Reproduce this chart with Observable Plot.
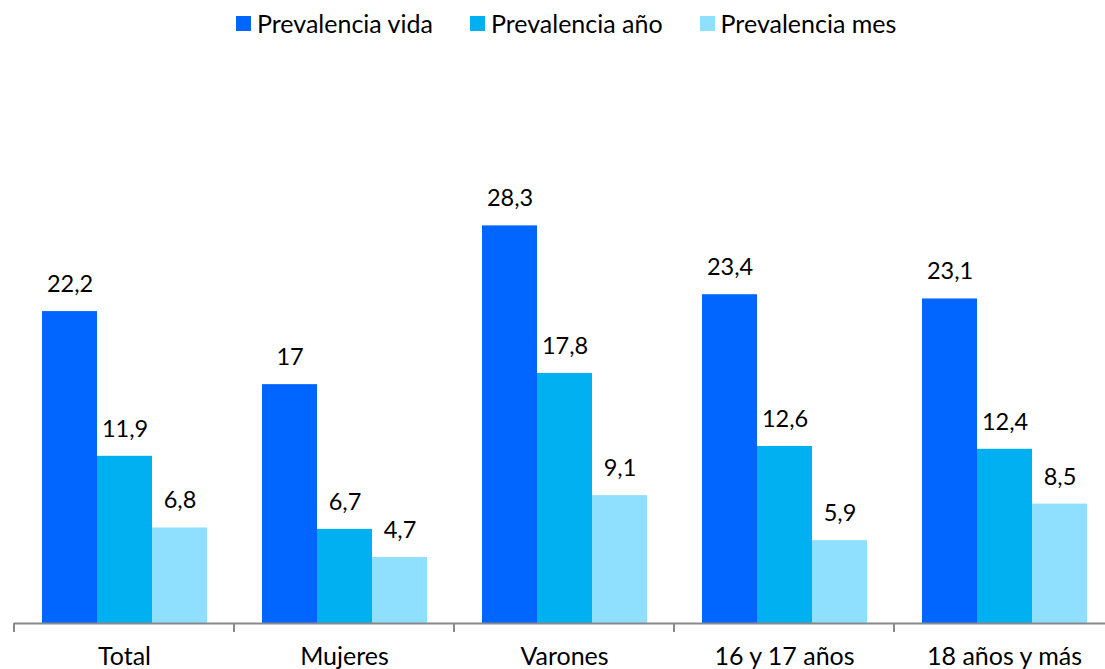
<!DOCTYPE html>
<html>
<head>
<meta charset="utf-8">
<script src="https://cdn.jsdelivr.net/npm/d3@7"></script>
<script src="https://cdn.jsdelivr.net/npm/@observablehq/plot@0.6"></script>
<style>
  html, body { margin: 0; padding: 0; background: #fff; overflow: hidden; width: 1105px; height: 669px; }
  #legend { position: relative; height: 50px; font-family: Lato, sans-serif; font-size: 25px; line-height: 25px; color: #000; }
  #legend .items { position: absolute; left: 236px; top: 11px; display: flex; align-items: center; }
  #legend .item { display: flex; align-items: center; margin-right: 37px; }
  #legend .sw { width: 15px; height: 15px; margin-right: 6px; }
  #chart svg { display: block; max-width: none !important; }
</style>
</head>
<body>
<div id="legend"><div class="items"></div></div>
<div id="chart"></div>
<script>
const categories = ["Total", "Mujeres", "Varones", "16 y 17 años", "18 años y más"];
const series = ["Prevalencia vida", "Prevalencia año", "Prevalencia mes"];
const vida = [22.2, 17, 28.3, 23.4, 23.1];
const anio = [11.9, 6.7, 17.8, 12.6, 12.4];
const mes = [6.8, 4.7, 9.1, 5.9, 8.5];
const colors = ["#0066FF", "#00B0F0", "#8FE0FF"];

const seriesValues = [vida, anio, mes];
const data = categories.flatMap((c, i) =>
  series.map((s, j) => ({ category: c, series: s, value: seriesValues[j][i] }))
);
const fmt = v => String(v).replace(".", ",");

// legend
const items = d3.select("#legend .items");
series.forEach((s, j) => {
  const it = items.append("div").attr("class", "item");
  it.append("div").attr("class", "sw").style("background", colors[j]);
  it.append("span").text(s);
});

const plot = Plot.plot({
  width: 1116,
  height: 619,
  marginLeft: 12,
  marginRight: 0,
  marginTop: 11,
  marginBottom: 46,
  style: { fontFamily: "Lato, sans-serif", fontSize: "24px", color: "#000", background: "transparent", overflow: "visible", maxWidth: "none" },
  fx: { domain: categories, padding: 0, label: null },
  x: { domain: series, paddingInner: 0, paddingOuter: 0.5, axis: null },
  y: { domain: [0, 40], axis: null },
  color: { domain: series, range: colors },
  marks: [
    Plot.barY(data, { fx: "category", x: "series", y: "value", fill: "series" }),
    Plot.text(data, { fx: "category", x: "series", y: "value", text: d => fmt(d.value), dy: -27, fontSize: 23.5, fill: "#000" }),
    Plot.ruleY([0], { stroke: "#898989", strokeWidth: 2 }),
    Plot.axisFx({ anchor: "bottom", tickSize: 0, tickPadding: 24, fontSize: 25, label: null, fill: "#000" })
  ]
});

// group boundary ticks from the fx band scale
const fxs = plot.scale("fx");
const y0 = plot.scale("y").apply(0);
const edges = fxs.domain.map(d => fxs.apply(d));
edges.push(fxs.apply(fxs.domain[fxs.domain.length - 1]) + fxs.bandwidth);
d3.select(plot).append("g")
  .selectAll("line")
  .data(edges)
  .join("line")
  .attr("x1", d => d).attr("x2", d => d)
  .attr("y1", y0).attr("y2", y0 + 9)
  .attr("stroke", "#898989").attr("stroke-width", 2);

document.getElementById("chart").appendChild(plot);
</script>
</body>
</html>
